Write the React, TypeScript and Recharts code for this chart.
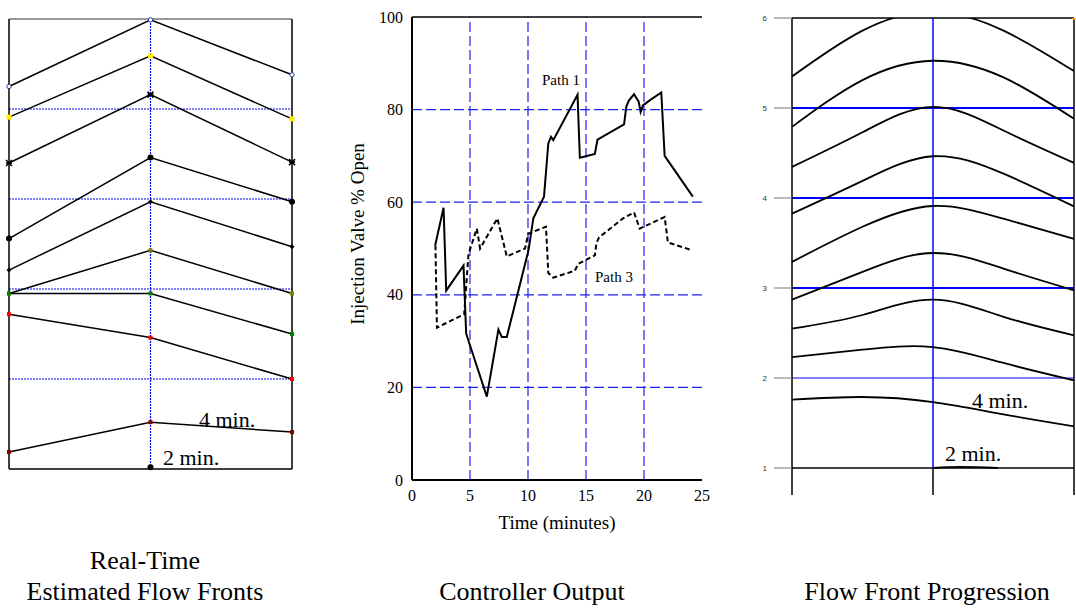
import React from 'react'
import { LineChart, Line, XAxis, YAxis, ReferenceLine } from 'recharts'

const SERIF = '"Liberation Serif", "Times New Roman", Times, serif'
const SANS = '"Liberation Sans", Arial, sans-serif'
const DOT_BLUE = '#0000ee'
const DASH_BLUE = '#2020f0'
const SOLID_BLUE = '#0000ff'

// left panel: real-time estimated flow fronts (left edge, centre, right edge)
const frontPos = [0, 1, 2]
const front1 = [4.25, 4.99, 4.38]
const front2 = [3.91, 4.59, 3.89]
const front3 = [3.4, 4.16, 3.41]
const front4 = [2.56, 3.46, 2.97]
const front5 = [2.21, 2.97, 2.47]
const front6 = [1.95, 2.43, 1.95]
const front7 = [1.95, 1.95, 1.5]
const front8 = [1.72, 1.46, 1.0]
const front9 = [0.19, 0.52, 0.41]
const front10 = [null, 0.02, null]
const frontGrid = [1, 2, 3, 4]

// middle panel: controller output
const timeTicks = [0, 5, 10, 15, 20, 25]
const valveTicks = [0, 20, 40, 60, 80, 100]
const timeGrid = [5, 10, 15, 20]
const valveGrid = [20, 40, 60, 80]
const path1Time = [2.0, 2.72, 2.95, 4.44, 4.67, 6.45, 7.45, 7.74, 8.17, 10.05, 10.46, 11.38, 11.75, 11.98, 12.18, 14.27, 14.47, 15.76, 15.99, 18.28, 18.48, 18.71, 19.14, 19.54, 19.71, 19.91, 20.49, 21.49, 21.78, 24.21]
const path1Open = [50.7, 58.8, 40.9, 46.3, 31.6, 18.0, 32.5, 30.9, 30.9, 49.7, 56.5, 61.2, 72.7, 74.1, 73.4, 83.2, 69.6, 70.4, 73.5, 76.8, 80.7, 82.0, 83.3, 81.7, 79.5, 80.9, 82.0, 83.7, 70.0, 61.2]
const path3Time = [2.02, 2.15, 4.5, 4.87, 5.59, 5.87, 7.36, 8.17, 9.74, 10.03, 11.55, 11.75, 12.18, 14.04, 14.33, 15.76, 15.9, 16.13, 18.19, 19.14, 19.63, 21.78, 22.06, 23.93]
const path3Open = [50.7, 32.9, 35.8, 48.8, 54.3, 50.0, 56.5, 48.3, 50.0, 53.2, 54.7, 44.7, 43.7, 45.2, 46.7, 48.5, 51.2, 52.4, 56.5, 57.8, 54.3, 56.8, 51.3, 49.8]

// right panel: flow front progression
const progPos = [0, 0.5, 1, 1.5, 2]
const prog1 = [5.35, 5.86, 6.07, 5.86, 5.41]
const prog2 = [4.79, 5.31, 5.525, 5.34, 4.88]
const prog3 = [4.345, 4.73, 5.013, 4.75, 4.39]
const prog4 = [3.826, 4.19, 4.464, 4.27, 3.907]
const prog5 = [3.29, 3.68, 3.911, 3.77, 3.547]
const prog6 = [2.87, 3.18, 3.389, 3.215, 2.974]
const prog7 = [2.548, 2.7, 2.87, 2.68, 2.474]
const prog8 = [2.233, 2.315, 2.344, 2.167, 1.974]
const prog9 = [1.759, 1.789, 1.733, 1.596, 1.463]
const prog2MinPos = [1, 1.2, 1.46]
const prog2Min = [1.0, 1.012, 1.0]
const progTicks = [1, 2, 3, 4, 5, 6]
const progBlueLines = [3, 4, 5]

const FRONT_STYLES = [
  { kind: 'ring', color: '#2b3a9a' },
  { kind: 'square', color: '#ffee00' },
  { kind: 'cross', color: '#000' },
  { kind: 'disc', color: '#000' },
  { kind: 'diamond', color: '#000' },
  { kind: 'small', color: '#808000' },
  { kind: 'small', color: '#008000' },
  { kind: 'small', color: '#ff0000' },
  { kind: 'small', color: '#800000' },
  { kind: 'disc', color: '#000' },
]

const fronts = [front1, front2, front3, front4, front5, front6, front7, front8, front9, front10]
const progs = [prog1, prog2, prog3, prog4, prog5, prog6, prog7, prog8, prog9]

const toPoints = (xs: number[], ys: (number | null)[]) =>
  xs.map((x, i) => ({ x, v: ys[i] })).filter(p => p.v !== null)

function Marker({ cx, cy, kind, color }: any) {
  if (cx == null || cy == null) return <g />
  switch (kind) {
    case 'ring':
      return <circle cx={cx} cy={cy} r={2.2} fill="#fff" stroke={color} strokeWidth={1} />
    case 'square':
      return <rect x={cx - 2.5} y={cy - 2.5} width={5} height={5} fill={color} />
    case 'cross':
      return (
        <path
          d={`M${cx - 3},${cy - 3}L${cx + 3},${cy + 3}M${cx - 3},${cy + 3}L${cx + 3},${cy - 3}M${cx - 3},${cy}L${cx + 3},${cy}`}
          stroke={color}
          strokeWidth={1.5}
        />
      )
    case 'disc':
      return <circle cx={cx} cy={cy} r={3} fill={color} />
    case 'diamond':
      return <path d={`M${cx},${cy - 2.5}L${cx + 2.5},${cy}L${cx},${cy + 2.5}L${cx - 2.5},${cy}Z`} fill={color} />
    default:
      return <rect x={cx - 2} y={cy - 2} width={4} height={4} fill={color} />
  }
}

function EstimatedFronts() {
  return (
    <LineChart width={300} height={480} margin={{ top: 19, right: 8, bottom: 11, left: 9 }}>
      <XAxis type="number" dataKey="x" domain={[0, 2]} hide />
      <YAxis type="number" domain={[0, 5]} hide />
      {frontGrid.map(g => (
        <ReferenceLine key={`h${g}`} y={g} stroke={DOT_BLUE} strokeWidth={1.2} strokeDasharray="2 1" />
      ))}
      <ReferenceLine x={1} stroke={DOT_BLUE} strokeWidth={1.2} strokeDasharray="2 1" />
      <ReferenceLine x={0} stroke="#000" strokeWidth={1.5} />
      <ReferenceLine x={2} stroke="#000" strokeWidth={1.5} />
      <ReferenceLine y={0} stroke="#000" strokeWidth={1.5} />
      <ReferenceLine y={5} stroke="#333" strokeWidth={1} />
      {fronts.map((f, i) => (
        <Line
          key={i}
          data={toPoints(frontPos, f)}
          dataKey="v"
          type="linear"
          stroke="#000"
          strokeWidth={1.5}
          dot={(p: any) => (
            <Marker key={`${i}-${p.index}`} cx={p.cx} cy={p.cy} kind={FRONT_STYLES[i].kind} color={FRONT_STYLES[i].color} />
          )}
          isAnimationActive={false}
        />
      ))}
    </LineChart>
  )
}

function ControllerOutput() {
  const path1 = toPoints(path1Time, path1Open)
  const path3 = toPoints(path3Time, path3Open)
  const tickStyle = { fontSize: 16, fill: '#000', fontFamily: SERIF }
  return (
    <LineChart width={380} height={540} margin={{ top: 17, right: 18, bottom: 0, left: 0 }}>
      <XAxis
        type="number"
        dataKey="x"
        domain={[0, 25]}
        ticks={timeTicks}
        height={60}
        tickLine={false}
        tickSize={0}
        tickMargin={10}
        axisLine={{ stroke: '#000', strokeWidth: 2 }}
        tick={tickStyle}
      />
      <YAxis
        type="number"
        domain={[0, 100]}
        ticks={valveTicks}
        width={72}
        tickLine={false}
        tickSize={0}
        tickMargin={9}
        axisLine={{ stroke: '#000', strokeWidth: 2 }}
        tick={tickStyle}
      />
      {valveGrid.map(g => (
        <ReferenceLine key={`h${g}`} y={g} stroke={DASH_BLUE} strokeWidth={1.2} strokeDasharray="10 4" />
      ))}
      {timeGrid.map(g => (
        <ReferenceLine key={`v${g}`} x={g} stroke={DASH_BLUE} strokeWidth={1.2} strokeDasharray="10 4" />
      ))}
      <ReferenceLine y={100} stroke="#000" strokeWidth={1.5} />
      <Line data={path1} dataKey="v" type="linear" stroke="#000" strokeWidth={2} dot={false} isAnimationActive={false} />
      <Line data={path3} dataKey="v" type="linear" stroke="#000" strokeWidth={2} strokeDasharray="5 3" dot={false} isAnimationActive={false} />
    </LineChart>
  )
}

function FlowProgression() {
  return (
    <LineChart width={316} height={500} margin={{ top: 18, right: 2, bottom: 5, left: 0 }}>
      <XAxis type="number" dataKey="x" domain={[0, 2]} hide />
      <YAxis
        type="number"
        domain={[0.7, 6]}
        allowDataOverflow
        ticks={progTicks}
        width={32}
        tickSize={18}
        tickMargin={7}
        tickLine={{ stroke: '#777' }}
        axisLine={{ stroke: '#000', strokeWidth: 1.5 }}
        tick={{ fontSize: 8, fill: '#333', fontFamily: SANS }}
      />
      <ReferenceLine y={6} stroke="#000" strokeWidth={1.5} />
      {progBlueLines.map(g => (
        <ReferenceLine key={`h${g}`} y={g} stroke={SOLID_BLUE} strokeWidth={2} />
      ))}
      <ReferenceLine y={2} stroke={SOLID_BLUE} strokeWidth={1} />
      <ReferenceLine y={1} stroke="#000" strokeWidth={1.5} />
      <ReferenceLine segment={[{ x: 1, y: 1 }, { x: 1, y: 6 }]} stroke={SOLID_BLUE} strokeWidth={1.5} />
      <ReferenceLine segment={[{ x: 1, y: 0.7 }, { x: 1, y: 1 }]} stroke="#000" strokeWidth={1.5} />
      <ReferenceLine x={2} stroke="#000" strokeWidth={1.5} />
      {progs.map((p, i) => (
        <Line
          key={i}
          data={toPoints(progPos, p)}
          dataKey="v"
          type="natural"
          stroke="#000"
          strokeWidth={1.8}
          dot={false}
          isAnimationActive={false}
        />
      ))}
      <Line
        data={toPoints(prog2MinPos, prog2Min)}
        dataKey="v"
        type="natural"
        stroke="#000"
        strokeWidth={1.8}
        dot={false}
        isAnimationActive={false}
      />
      <Line
        data={toPoints([2], [6])}
        dataKey="v"
        stroke="#ff9900"
        dot={{ r: 2, fill: '#ff9900', stroke: 'none' }}
        isAnimationActive={false}
      />
    </LineChart>
  )
}

export default function App() {
  return (
    <div style={{ position: 'absolute', left: 0, top: 0, width: 1076, height: 608, background: '#fff' }}>
      <div style={{ position: 'absolute', left: 0, top: 0 }}>
        <EstimatedFronts />
      </div>
      <div style={{ position: 'absolute', left: 340, top: 0 }}>
        <ControllerOutput />
      </div>
      <div style={{ position: 'absolute', left: 760, top: 0 }}>
        <FlowProgression />
      </div>
      <svg width={1076} height={608} style={{ position: 'absolute', left: 0, top: 0, pointerEvents: 'none' }}>
        <g fontFamily={SERIF} fill="#000">
          <text x={199} y={427} fontSize={22}>4 min.</text>
          <text x={163} y={465} fontSize={22}>2 min.</text>
          <text x={542} y={85} fontSize={15}>Path 1</text>
          <text x={595} y={282} fontSize={15}>Path 3</text>
          <text x={364} y={234} fontSize={19} textAnchor="middle" transform="rotate(-90 364 234)">
            Injection Valve % Open
          </text>
          <text x={557} y={529} fontSize={19} textAnchor="middle">Time (minutes)</text>
          <text x={972} y={408} fontSize={22}>4 min.</text>
          <text x={945} y={461} fontSize={22}>2 min.</text>
          <text x={145} y={569} fontSize={26} textAnchor="middle">Real-Time</text>
          <text x={145} y={600} fontSize={26} textAnchor="middle">Estimated Flow Fronts</text>
          <text x={532} y={600} fontSize={26} textAnchor="middle">Controller Output</text>
          <text x={927} y={600} fontSize={26} textAnchor="middle">Flow Front Progression</text>
        </g>
      </svg>
    </div>
  )
}
